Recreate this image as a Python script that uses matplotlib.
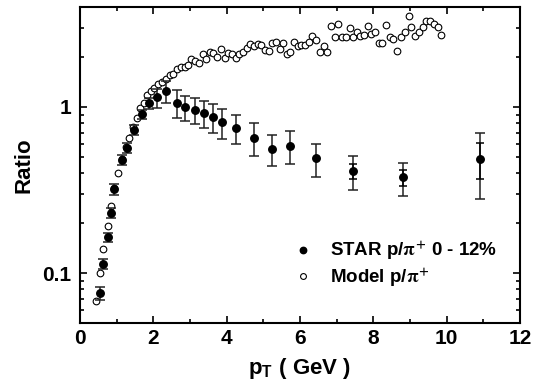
"""
Cociente p/pi+ frente a pT: datos STAR (0-12%) y modelo.
"""
import matplotlib
matplotlib.use("Agg")
import matplotlib.pyplot as plt
from matplotlib.lines import Line2D
from matplotlib.ticker import FixedLocator, FixedFormatter, LogLocator, MultipleLocator, NullFormatter

plt.rcParams["font.family"] = ["Liberation Sans", "DejaVu Sans"]
plt.rcParams["font.weight"] = "bold"
plt.rcParams["mathtext.fontset"] = "stix"

# ── Datos STAR p/pi+ 0-12% ──
star_pt = [0.55, 0.64, 0.75, 0.84, 0.94, 1.14, 1.27, 1.48, 1.68, 1.89, 2.09, 2.35,
           2.64, 2.87, 3.13, 3.38, 3.63, 3.88, 4.25, 4.75, 5.24, 5.74, 6.45, 7.45,
           8.82, 10.91]
star_ratio = [0.076, 0.114, 0.164, 0.231, 0.319, 0.48, 0.569, 0.727, 0.904, 1.05,
              1.14, 1.25, 1.06, 0.996, 0.959, 0.916, 0.867, 0.809, 0.744, 0.653,
              0.559, 0.585, 0.491, 0.411, 0.377, 0.486]
star_err = [0.007, 0.008, 0.011, 0.016, 0.025, 0.035, 0.04, 0.05, 0.06, 0.08,
            0.15, 0.19, 0.2, 0.175, 0.175, 0.17, 0.17, 0.165, 0.145, 0.145,
            0.12, 0.13, 0.11, 0.095, 0.085, 0.207]
# barras internas (estadísticas) de los tres últimos puntos
star_pt_in = [7.45, 8.82, 10.91]
star_ratio_in = [0.411, 0.377, 0.486]
star_err_in = [0.045, 0.043, 0.12]

# ── Modelo p/pi+ ──
model_pt = [0.43, 0.55, 0.64, 0.75, 0.85, 0.94, 1.05, 1.14, 1.25, 1.34, 1.44, 1.55,
            1.64, 1.75, 1.82, 1.93, 2.02, 2.14, 2.25, 2.35, 2.45, 2.55, 2.64, 2.75,
            2.86, 2.95, 3.04, 3.14, 3.25, 3.35, 3.45, 3.55, 3.64, 3.74, 3.85, 3.95,
            4.05, 4.14, 4.25, 4.34, 4.45, 4.55, 4.65, 4.75, 4.86, 4.95, 5.06, 5.16,
            5.25, 5.36, 5.45, 5.54, 5.65, 5.74, 5.84, 5.95, 6.04, 6.14, 6.25, 6.34,
            6.45, 6.56, 6.65, 6.74, 6.84, 6.95, 7.04, 7.15, 7.25, 7.36, 7.45, 7.56,
            7.65, 7.75, 7.85, 7.95, 8.06, 8.16, 8.25, 8.36, 8.45, 8.54, 8.65, 8.75,
            8.86, 8.97, 9.04, 9.15, 9.25, 9.36, 9.45, 9.56, 9.66, 9.77, 9.86]
model_ratio = [0.068, 0.0995, 0.14, 0.192, 0.254, 0.324, 0.40, 0.486, 0.577, 0.648,
               0.761, 0.855, 0.98, 1.05, 1.18, 1.24, 1.30, 1.38, 1.42, 1.47, 1.55,
               1.57, 1.68, 1.73, 1.75, 1.79, 1.94, 1.88, 1.85, 2.08, 1.94, 2.15, 2.11,
               2.01, 2.23, 1.96, 2.11, 2.09, 1.96, 2.09, 2.15, 2.26, 2.39, 2.33, 2.39,
               2.36, 2.20, 2.18, 2.44, 2.47, 2.23, 2.42, 2.09, 2.14, 2.47, 2.31, 2.36,
               2.36, 2.47, 2.68, 2.53, 2.15, 2.33, 2.15, 3.07, 2.65, 3.16, 2.65, 2.65,
               2.98, 2.65, 2.82, 2.68, 2.71, 3.07, 2.75, 2.84, 2.42, 2.44, 3.12, 2.63,
               2.56, 2.18, 2.65, 2.81, 3.50, 3.04, 2.68, 2.82, 3.02, 3.28, 3.31, 3.16,
               3.02, 2.71]

xticks = [0, 2, 4, 6, 8, 10, 12]
yticks = [0.1, 1]
ytick_labels = ["0.1", "1"]
label_star = r"STAR p/$\mathrm{\pi}^{+}$ 0 - 12%"
label_model = r"Model p/$\mathrm{\pi}^{+}$"

fig = plt.figure(figsize=(5.37, 3.81), dpi=100)
ax = fig.add_axes([0.149, 0.152, 0.819, 0.830])

ax.plot(model_pt, model_ratio, "o", ms=4.8, mfc="white", mec="black", mew=0.8, zorder=2)
ax.errorbar(star_pt, star_ratio, yerr=star_err, fmt="o", ms=5.4, color="black",
            ecolor="#222222", elinewidth=1.1, capsize=3.5, capthick=1.1, zorder=3)
ax.errorbar(star_pt_in, star_ratio_in, yerr=star_err_in, fmt="none",
            ecolor="black", elinewidth=1.1, capsize=3, capthick=1.1, zorder=3)

ax.set_yscale("log")
ax.set_xlim(0, 12)
ax.set_ylim(0.05, 4)

ax.xaxis.set_major_locator(FixedLocator(xticks))
ax.xaxis.set_minor_locator(MultipleLocator(1))
ax.yaxis.set_major_locator(FixedLocator(yticks))
ax.yaxis.set_major_formatter(FixedFormatter(ytick_labels))
ax.yaxis.set_minor_locator(LogLocator(base=10, subs=range(2, 10)))
ax.yaxis.set_minor_formatter(NullFormatter())

ax.tick_params(which="both", direction="in", top=True, right=True, width=1.2)
ax.tick_params(which="major", length=5, labelsize=15, pad=4)
ax.tick_params(which="minor", length=3)
ax.tick_params(axis="y", which="major", pad=6)
for sp in ax.spines.values():
    sp.set_linewidth(1.5)

ax.set_xlabel(r"p$_{\mathregular{T}}$ ( GeV )", fontsize=16, fontweight="bold", labelpad=6)
ax.set_ylabel("Ratio", fontsize=16, fontweight="bold", labelpad=6)

# Leyenda solo con marcadores (sin barras de error)
handles = [
    Line2D([], [], ls="none", marker="o", ms=4.6, color="black"),
    Line2D([], [], ls="none", marker="o", ms=4.2, mfc="white", mec="black", mew=0.8),
]
ax.legend(handles, [label_star, label_model], loc="center left",
          bbox_to_anchor=(0.485, 0.187), frameon=False, fontsize=13.5,
          handlelength=1.0, handletextpad=0.94, borderpad=0, borderaxespad=0,
          labelspacing=0.2)

fig.savefig("out.png", dpi=100)
plt.close(fig)
